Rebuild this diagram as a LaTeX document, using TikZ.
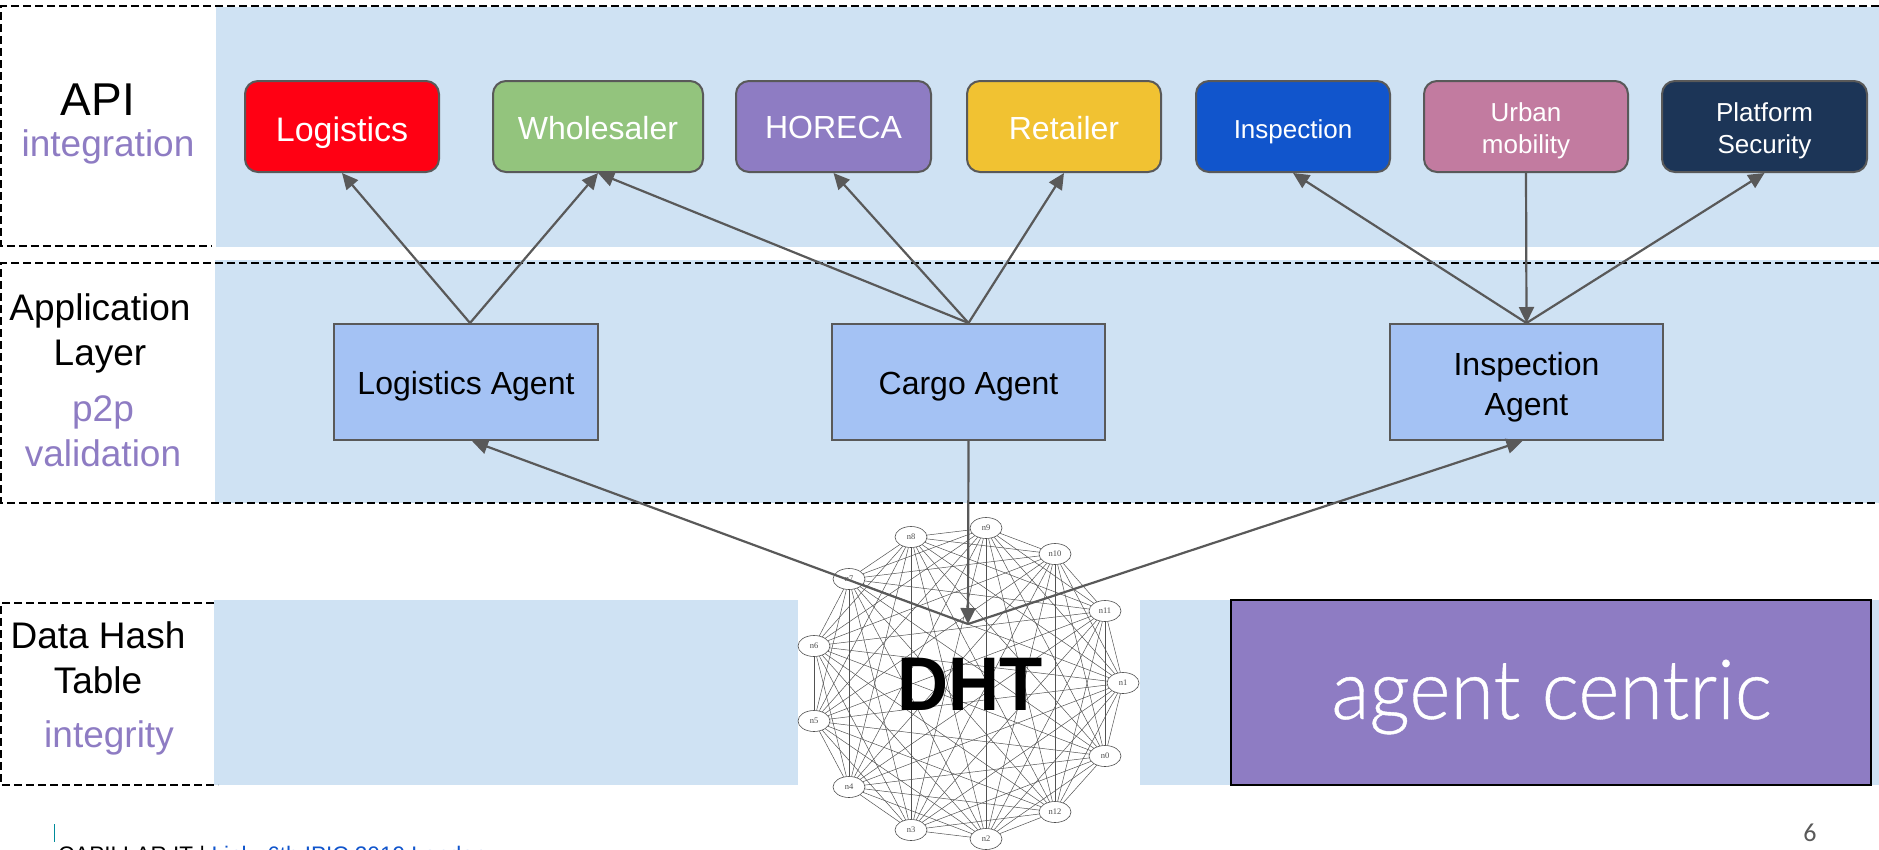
\documentclass[tikz,border=0pt]{standalone}
\usepackage{fontspec}
\setmainfont{Liberation Sans}
\newfontfamily\serifgraph{Liberation Serif}
\newfontfamily\pagefont{Carlito}
\newfontfamily\centricfont[FakeBold=0.5]{Lato Light}
\usetikzlibrary{arrows.meta,calc,shapes.geometric}
\definecolor{band}{HTML}{CFE2F3}
\definecolor{edgegray}{HTML}{595959}
\definecolor{lilac}{HTML}{8E7CC3}
\definecolor{agentblue}{HTML}{A4C2F4}
\newcommand{\fs}[1]{\fontsize{#1}{#1}\selectfont}
\newcommand{\lowtext}[2]{\raisebox{-#1}[\height][\depth]{\begin{tabular}{@{}c@{}}#2\end{tabular}}}
\tikzset{
  x=1pt,y=-1pt,
  bandfill/.style={fill=band,draw=none},
  dashline/.style={draw=black,line width=1.8pt,dash pattern=on 8pt off 4pt},
  apibox/.style={draw=edgegray,line width=2pt,rounded corners=13pt,minimum height=91pt,inner sep=0pt,align=center,text=white},
  agentbox/.style={draw=edgegray,line width=2pt,fill=agentblue,minimum height=116pt,minimum width=264pt,inner sep=0pt,align=center,text=black},
  flow/.style={draw=edgegray,line width=2.2pt,-{Triangle[length=16pt,width=15pt]}},
  gnode/.style={ellipse,draw=black!70,fill=white,line width=.6pt,minimum width=32pt,minimum height=21pt,inner sep=0pt,font=\serifgraph\fs{8.5},text=black!70},
  gedge/.style={draw=black!68,line width=.5pt},
  blacklabel/.style={anchor=base,align=center,text=black,font=\fs{37}},
  lilaclabel/.style={anchor=base,align=center,text=lilac,font=\fs{37}},
}
\begin{document}
\begin{tikzpicture}
\useasboundingbox (0,0) rectangle (1879,849);
\clip (0,0) rectangle (1879,849);
% bands
\fill[bandfill] (216,7) rectangle (1879,247);
\fill[bandfill] (215,260) rectangle (1879,503);
\fill[bandfill] (214,600) rectangle (798,785);
\fill[bandfill] (1140,600) rectangle (1879,785);
% dashed frames
\draw[dashline] (1879,6) -- (1,6) -- (1,246) -- (212,246);
\draw[dashline] (1879,263) -- (1,263) -- (1,503) -- (1879,503);
\draw[dashline] (214,603) -- (1,603) -- (1,785) -- (218,785);
% side labels
\node[blacklabel,font=\fs{46}] (lapi) at (98,115) {API};
\node[lilaclabel] (lint) at (108,156) {integration};
\node[blacklabel] (lapp) at (100,365) {Application\\[8pt]Layer};
\node[lilaclabel] (lp2p) at (103,466) {p2p\\[8pt]validation};
\node[blacklabel] (ldht) at (98,693) {Data Hash\\[8pt]Table};
\node[lilaclabel] (lity) at (109,747) {integrity};
% API boxes
\node[apibox,fill={rgb,255:red,255;green,0;blue,19},minimum width=194pt,font=\fs{34}] (logi) at (342,126.5) {\lowtext{7.5pt}{Logistics}};
\node[apibox,fill={rgb,255:red,147;green,196;blue,125},minimum width=210pt,font=\fs{32}] (whol) at (598,126.5) {\lowtext{6pt}{Wholesaler}};
\node[apibox,fill=lilac,minimum width=195pt,font=\fs{32}] (hore) at (833.5,126.5) {\lowtext{6pt}{HORECA}};
\node[apibox,fill={rgb,255:red,241;green,194;blue,50},minimum width=194pt,font=\fs{32}] (reta) at (1064,126.5) {\lowtext{6pt}{Retailer}};
\node[apibox,fill={rgb,255:red,17;green,85;blue,204},minimum width=194pt,font=\fs{26}] (insp) at (1293,126.5) {\lowtext{6pt}{Inspection}};
\node[apibox,fill={rgb,255:red,194;green,123;blue,160},minimum width=204pt,font=\fs{26}] (urba) at (1526,126.5) {\lowtext{5.5pt}{Urban\\[5pt]mobility}};
\node[apibox,fill={rgb,255:red,28;green,53;blue,87},minimum width=205pt,font=\fs{26}] (plat) at (1764.5,126.5) {\lowtext{5.5pt}{Platform\\[5pt]Security}};
% agents
\node[agentbox,font=\fs{32}] (alog) at (466,382) {\lowtext{6pt}{Logistics Agent}};
\node[agentbox,minimum width=273pt,font=\fs{32}] (acar) at (968.5,382) {\lowtext{6pt}{Cargo Agent}};
\node[agentbox,minimum width=273pt,font=\fs{32}] (ains) at (1526.5,382) {\lowtext{7pt}{Inspection\\[8pt]Agent}};
% DHT graph
\node[gnode] (n9) at (986,528) {n9};
\node[gnode] (n8) at (911,537) {n8};
\node[gnode] (n10) at (1055,554) {n10};
\node[gnode] (n7) at (849,579) {n7};
\node[gnode] (n11) at (1105,611) {n11};
\node[gnode] (n6) at (814,646) {n6};
\node[gnode] (n1) at (1123,683) {n1};
\node[gnode] (n5) at (814,721) {n5};
\node[gnode] (n0) at (1105,756) {n0};
\node[gnode] (n4) at (849,787) {n4};
\node[gnode] (n12) at (1055,812) {n12};
\node[gnode] (n3) at (911,830) {n3};
\node[gnode] (n2) at (986,839) {n2};
\foreach \a [count=\i] in {n0,n1,n2,n3,n4,n5,n6,n7,n8,n9,n10,n11,n12}{
  \foreach \b [count=\j] in {n0,n1,n2,n3,n4,n5,n6,n7,n8,n9,n10,n11,n12}{
    \ifnum\i<\j \draw[gedge] (\a) -- (\b); \fi
  }
}
\node[anchor=base,text=black,font=\bfseries\fs{76},xscale=.93] (dhtt) at (970,710) {DHT};
% agent centric
\node[draw=black,line width=2pt,fill=lilac,minimum width=640pt,minimum height=185pt,inner sep=0pt] (acen) at (1551,692.5) {};
\node[anchor=base,text=white,font=\centricfont\fs{83},xscale=.95] (acent) at (1551.5,719) {agent centric};
% connectors
\coordinate (hub) at (968,624);
\draw[flow] ([xshift=4pt]alog.north) -- (logi.south);
\draw[flow] ([xshift=4pt]alog.north) -- (whol.south);
\draw[flow] (acar.north) -- (whol.south);
\draw[flow] (acar.north) -- (hore.south);
\draw[flow] (acar.north) -- (reta.south);
\draw[flow] (ains.north) -- (insp.south);
\draw[flow] (urba.south) -- (ains.north);
\draw[flow] (ains.north) -- (plat.south);
\draw[flow] (hub) -- ([xshift=6pt]alog.south);
\draw[flow] (acar.south) -- (hub);
\draw[flow] (hub) -- ([xshift=-4pt]ains.south);
% footer
\draw[color={rgb,255:red,0;green,139;blue,155},line width=1pt] (54,824) -- (54,842);
\node[anchor=base west,inner sep=0pt,font=\fs{22.5}] (foot) at (58,862) {CAPILLAR.IT | \textcolor[HTML]{1155CC}{Link: 6th IPIC 2019 London}};
\node[anchor=base,inner sep=0pt,text=edgegray,font=\pagefont\fs{26}] (pnum) at (1810,841) {6};
\end{tikzpicture}
\end{document}
